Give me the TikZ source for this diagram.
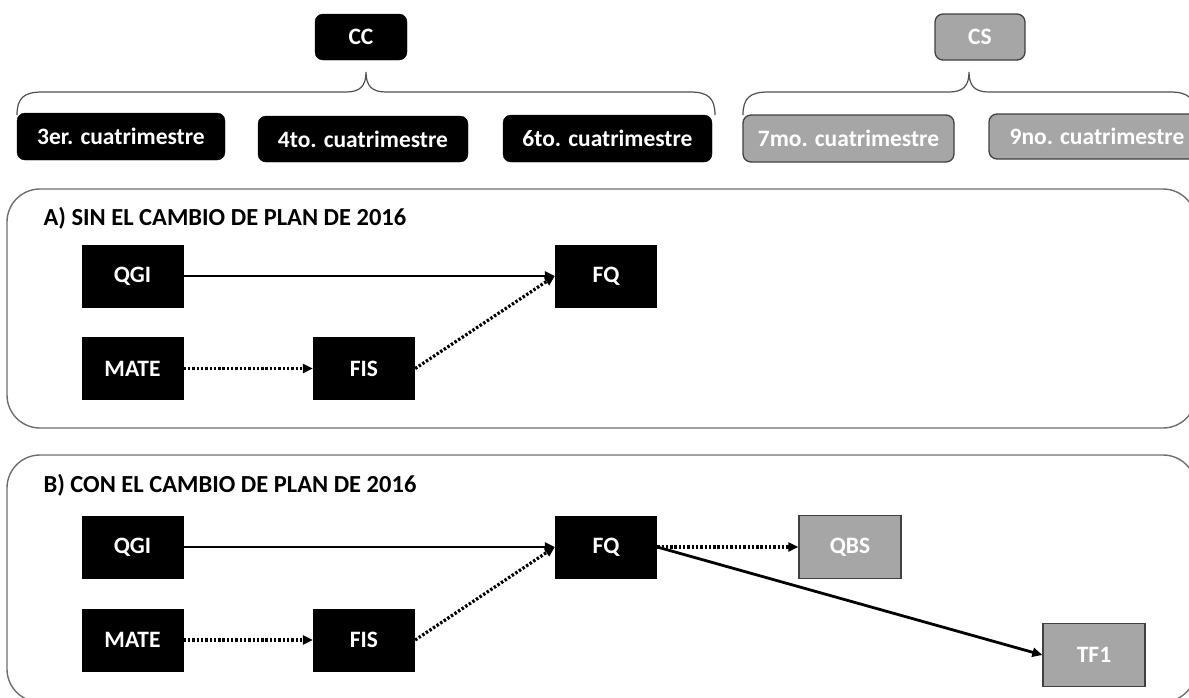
\documentclass[tikz,border=0pt]{standalone}
\usepackage{fontspec}
\setmainfont{Carlito}
\usetikzlibrary{arrows.meta}
\definecolor{gfill}{HTML}{A6A6A6}
\definecolor{gline}{HTML}{404040}
\definecolor{frame}{HTML}{6E6E6E}
\definecolor{bracec}{HTML}{505050}
\begin{document}
\begin{tikzpicture}[x=1pt,y=-1pt,
 lbl/.style={font=\fontsize{23.5}{28}\selectfont\bfseries},
 ttl/.style={font=\fontsize{24.5}{29}\selectfont\bfseries},
 blackround/.style={lbl, fill=black, draw=black, text=white, rounded corners=8pt, inner sep=0pt},
 grayround/.style={lbl, fill=gfill, draw=gline, line width=1.3pt, text=white, rounded corners=8pt, inner sep=0pt},
 blacksq/.style={lbl, fill=black, text=white, minimum width=102pt, minimum height=63pt, inner sep=0pt},
 graysq/.style={lbl, fill=gfill, draw=gline, line width=1.3pt, text=white, minimum width=102pt, minimum height=63pt, inner sep=0pt},
 solidarrow/.style={line width=2.8pt, -{Triangle[length=10pt,width=9pt]}},
 dotarrow/.style={line width=3.2pt, dash pattern=on 2.4pt off 1.9pt, -{Triangle[length=10pt,width=9pt]}},
 brace/.style={draw=bracec, line width=1.2pt},
 panel/.style={draw=frame, line width=1.4pt, rounded corners=33pt}]
\useasboundingbox (0,0) rectangle (1189,697);
\clip (0,0) rectangle (1189,697);

% top headers
\node[blackround, minimum width=92pt, minimum height=46pt] (cc) at (361,37) {CC};
\node[grayround, minimum width=90pt, minimum height=46pt] (cs) at (980,37) {CS};

% braces
\draw[brace] (17,115) .. controls (17,98) and (24,92) .. (42,92) -- (346,92)
  .. controls (360,92) and (366,86) .. (366,72)
  .. controls (366,86) and (372,92) .. (386,92) -- (690,92)
  .. controls (708,92) and (715,98) .. (715,115);
\draw[brace] (743,115) .. controls (743,98) and (750,92) .. (768,92) -- (949,92)
  .. controls (963,92) and (969,86) .. (969,72)
  .. controls (969,86) and (975,92) .. (989,92) -- (1170,92)
  .. controls (1188,92) and (1195,98) .. (1195,115);

% semester boxes
\node[blackround, minimum width=208pt, minimum height=47pt] (s3) at (121,136.5) {3er. cuatrimestre};
\node[blackround, minimum width=210pt, minimum height=46pt] (s4) at (363,139) {4to. cuatrimestre};
\node[blackround, minimum width=209pt, minimum height=47pt] (s6) at (607.5,138.5) {6to. cuatrimestre};
\node[grayround, minimum width=211pt, minimum height=47pt] (s7) at (848.5,138.5) {7mo. cuatrimestre};
\node[grayround, minimum width=216pt, minimum height=45pt] (s9) at (1097,136.5) {9no. cuatrimestre};

% panels
\draw[panel] (7,189) rectangle (1196,428);
\draw[panel] (7,455) rectangle (1196,702);

% panel A
\node[ttl, anchor=west] (ta) at (40,218) {A) SIN EL CAMBIO DE PLAN DE 2016};
\node[blacksq] (qgiA) at (132.5,276) {QGI};
\node[blacksq] (fqA) at (606,276) {FQ};
\node[blacksq] (mateA) at (132.5,368.5) {MATE};
\node[blacksq] (fisA) at (364,368.5) {FIS};
\draw[solidarrow] (qgiA.east) -- (fqA.west);
\draw[dotarrow] (mateA.east) -- (fisA.west);
\draw[dotarrow] (fisA.east) -- (fqA.west);

% panel B
\node[ttl, anchor=west] (tb) at (40,485) {B) CON EL CAMBIO DE PLAN DE 2016};
\node[blacksq] (qgiB) at (132.5,547) {QGI};
\node[blacksq] (fqB) at (606,547) {FQ};
\node[blacksq] (mateB) at (132.5,640) {MATE};
\node[blacksq] (fisB) at (364,640) {FIS};
\node[graysq] (qbs) at (850,547) {QBS};
\node[graysq] (tf1) at (1094,655) {TF1};
\draw[solidarrow] (qgiB.east) -- (fqB.west);
\draw[dotarrow] (mateB.east) -- (fisB.west);
\draw[dotarrow] (fisB.east) -- (fqB.west);
\draw[dotarrow] (fqB.east) -- (qbs.west);
\draw[solidarrow] (fqB.east) -- (tf1.west);
\end{tikzpicture}
\end{document}
